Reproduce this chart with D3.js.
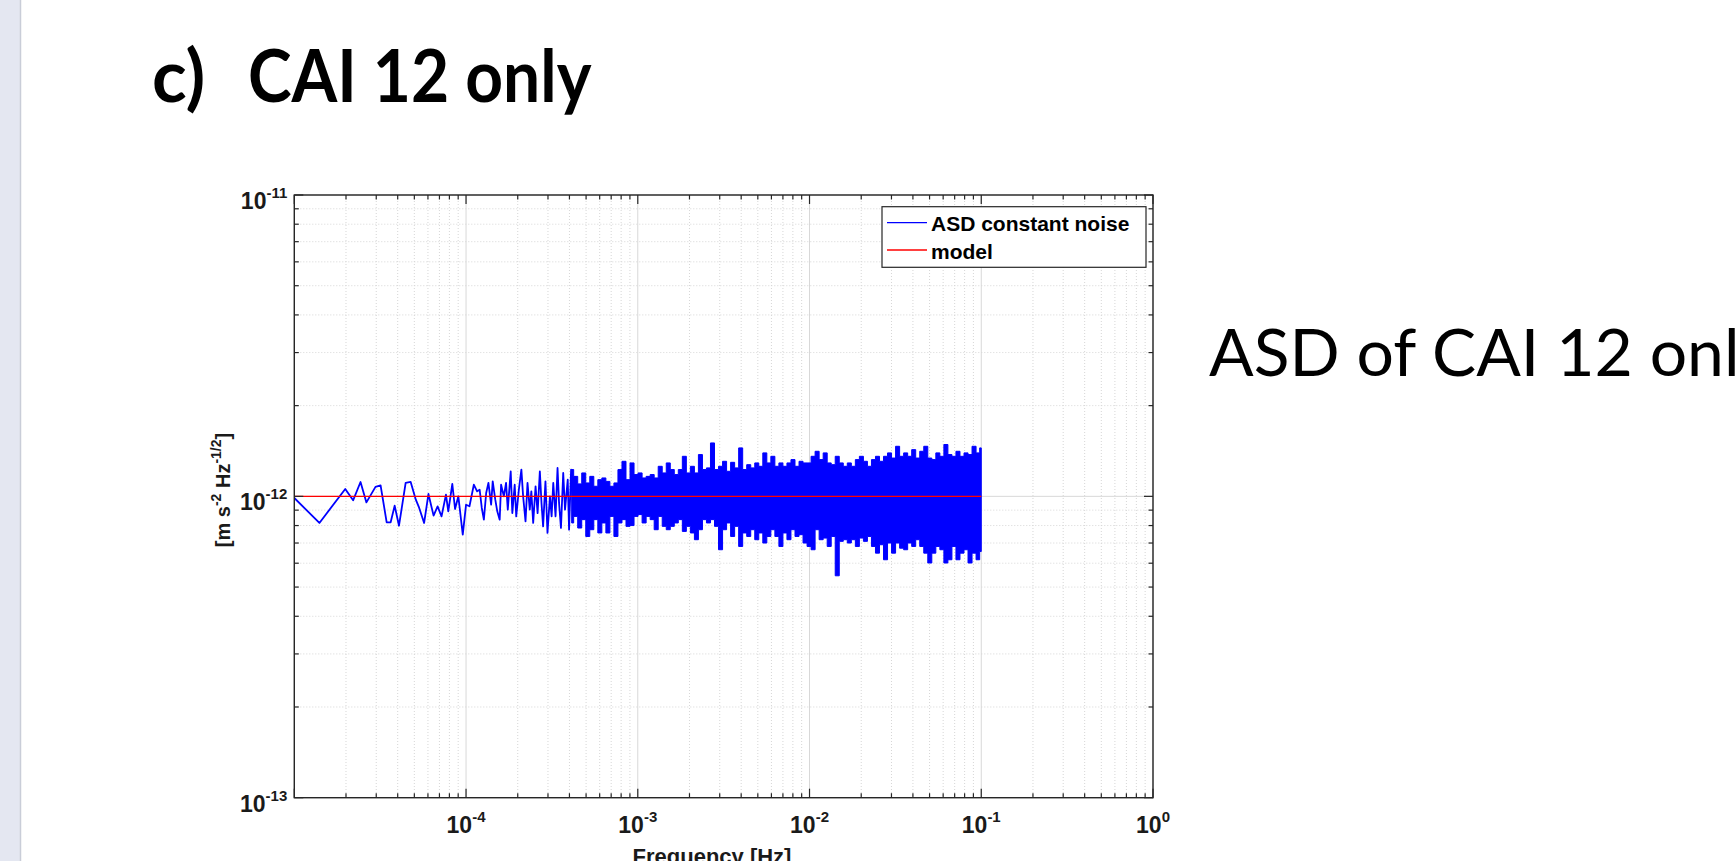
<!DOCTYPE html>
<html>
<head>
<meta charset="utf-8">
<script src="https://cdn.jsdelivr.net/npm/d3@7"></script>
<style>
  html, body { margin: 0; padding: 0; background: #fff; overflow: hidden; }
  #slide { position: relative; width: 1736px; height: 861px; overflow: hidden; }
</style>
</head>
<body>
<div id="slide"></div>
<script>
// values in units of 1e-12 m s^-2 Hz^-1/2
const unit = 1e-12;

// low frequency part, single points
const lineFreq = [1.00e-5, 1.40e-5, 1.98e-5, 2.20e-5, 2.43e-5, 2.63e-5, 2.97e-5, 3.18e-5, 3.45e-5, 3.64e-5,
  3.84e-5, 4.07e-5, 4.45e-5, 4.76e-5, 5.10e-5, 5.33e-5, 5.70e-5, 6.04e-5, 6.47e-5, 6.83e-5,
  7.20e-5, 7.64e-5, 7.88e-5, 8.32e-5, 8.63e-5, 9.02e-5, 9.57e-5, 1.00e-4, 1.047e-4, 1.11e-4,
  1.16e-4, 1.20e-4, 1.235e-4, 1.27e-4, 1.31e-4, 1.35e-4, 1.40e-4, 1.43e-4, 1.48e-4, 1.52e-4,
  1.57e-4, 1.60e-4, 1.66e-4, 1.71e-4, 1.75e-4, 1.82e-4, 1.86e-4, 1.92e-4, 1.96e-4, 2.03e-4,
  2.10e-4, 2.15e-4, 2.22e-4, 2.28e-4, 2.35e-4, 2.40e-4, 2.46e-4, 2.54e-4, 2.61e-4, 2.69e-4,
  2.75e-4, 2.81e-4, 2.90e-4, 2.98e-4, 3.08e-4, 3.15e-4, 3.22e-4, 3.32e-4, 3.41e-4, 3.48e-4,
  3.57e-4, 3.68e-4, 3.77e-4, 3.91e-4, 3.98e-4, 4.09e-4, 4.22e-4, 4.31e-4];
const lineAsd = [0.988, 0.816, 1.058, 0.970, 1.116, 0.955, 1.075, 1.088, 0.820, 0.820,
  0.931, 0.799, 1.108, 1.116, 0.975, 0.917, 0.816, 1.018, 0.863, 0.926,
  0.858, 1.013, 0.892, 1.099, 0.908, 1.000, 0.746, 0.938, 0.927, 1.093,
  1.039, 1.052, 0.915, 0.837, 1.026, 1.108, 0.938, 1.122, 0.975, 0.892,
  0.837, 1.093, 1.000, 1.108, 0.903, 1.211, 0.880, 1.093, 0.858, 1.052,
  1.227, 1.000, 0.826, 1.108, 0.903, 1.039, 0.816, 1.080, 0.880, 1.211,
  0.951, 0.795, 1.122, 0.756, 1.000, 0.858, 1.108, 0.858, 1.242, 0.951,
  0.785, 1.196, 0.903, 1.136, 0.775, 1.227, 0.880, 1.166];

// dense part: max / min of the trace per frequency bin
const bandFreq = [4.122e-4, 4.350e-4, 4.591e-4, 4.846e-4, 5.114e-4, 5.398e-4, 5.697e-4, 6.013e-4, 6.346e-4, 6.698e-4,
  7.069e-4, 7.461e-4, 7.875e-4, 8.311e-4, 8.772e-4, 9.258e-4, 9.771e-4, 1.031e-3, 1.089e-3, 1.149e-3,
  1.213e-3, 1.280e-3, 1.351e-3, 1.426e-3, 1.505e-3, 1.588e-3, 1.676e-3, 1.769e-3, 1.867e-3, 1.970e-3,
  2.080e-3, 2.195e-3, 2.316e-3, 2.445e-3, 2.580e-3, 2.723e-3, 2.874e-3, 3.034e-3, 3.202e-3, 3.379e-3,
  3.567e-3, 3.764e-3, 3.973e-3, 4.193e-3, 4.426e-3, 4.671e-3, 4.930e-3, 5.203e-3, 5.491e-3, 5.796e-3,
  6.117e-3, 6.456e-3, 6.814e-3, 7.192e-3, 7.590e-3, 8.011e-3, 8.455e-3, 8.924e-3, 9.419e-3, 9.941e-3,
  1.049e-2, 1.107e-2, 1.169e-2, 1.234e-2, 1.302e-2, 1.374e-2, 1.450e-2, 1.531e-2, 1.615e-2, 1.705e-2,
  1.800e-2, 1.899e-2, 2.005e-2, 2.116e-2, 2.233e-2, 2.357e-2, 2.487e-2, 2.625e-2, 2.771e-2, 2.924e-2,
  3.086e-2, 3.258e-2, 3.438e-2, 3.629e-2, 3.830e-2, 4.042e-2, 4.266e-2, 4.503e-2, 4.752e-2, 5.016e-2,
  5.294e-2, 5.587e-2, 5.897e-2, 6.224e-2, 6.569e-2, 6.933e-2, 7.317e-2, 7.723e-2, 8.151e-2, 8.602e-2,
  9.079e-2, 9.582e-2, 1.000e-1];
const bandHigh = [1.227, 1.165, 1.100, 1.196, 1.108, 1.165, 1.080, 1.136, 1.151, 1.121,
  1.080, 1.108, 1.227, 1.307, 1.136, 1.291, 1.181, 1.196, 1.151, 1.165,
  1.181, 1.151, 1.258, 1.196, 1.291, 1.227, 1.181, 1.227, 1.358, 1.196,
  1.258, 1.196, 1.376, 1.227, 1.243, 1.504, 1.227, 1.258, 1.307, 1.211,
  1.297, 1.243, 1.448, 1.227, 1.274, 1.243, 1.291, 1.258, 1.394, 1.291,
  1.358, 1.258, 1.291, 1.258, 1.291, 1.324, 1.258, 1.307, 1.291, 1.291,
  1.358, 1.411, 1.324, 1.394, 1.291, 1.274, 1.358, 1.291, 1.258, 1.291,
  1.258, 1.324, 1.358, 1.307, 1.258, 1.324, 1.358, 1.307, 1.358, 1.394,
  1.340, 1.466, 1.358, 1.394, 1.358, 1.429, 1.340, 1.411, 1.466, 1.340,
  1.324, 1.394, 1.358, 1.486, 1.376, 1.358, 1.411, 1.358, 1.394, 1.376,
  1.466, 1.394, 1.448];
const bandLow = [0.816, 0.858, 0.785, 0.837, 0.736, 0.775, 0.837, 0.756, 0.816, 0.756,
  0.858, 0.736, 0.816, 0.837, 0.795, 0.800, 0.858, 0.870, 0.816, 0.858,
  0.837, 0.775, 0.858, 0.795, 0.775, 0.795, 0.816, 0.837, 0.765, 0.795,
  0.756, 0.718, 0.775, 0.837, 0.816, 0.837, 0.795, 0.665, 0.775, 0.816,
  0.736, 0.795, 0.682, 0.756, 0.736, 0.775, 0.718, 0.756, 0.700, 0.736,
  0.775, 0.736, 0.682, 0.756, 0.718, 0.775, 0.736, 0.746, 0.700, 0.682,
  0.665, 0.775, 0.718, 0.727, 0.682, 0.736, 0.545, 0.709, 0.718, 0.700,
  0.718, 0.682, 0.727, 0.709, 0.736, 0.682, 0.648, 0.691, 0.616, 0.700,
  0.648, 0.700, 0.673, 0.665, 0.700, 0.682, 0.718, 0.682, 0.648, 0.601,
  0.648, 0.682, 0.665, 0.601, 0.616, 0.682, 0.616, 0.648, 0.665, 0.601,
  0.648, 0.616, 0.656];

const modelFreq = [1e-5, 1e-1];
const modelAsd = [1, 1];

const xTickExp = [-4, -3, -2, -1, 0];
const yTickExp = [-13, -12, -11];
const legendLabels = ["ASD constant noise", "model"];
const legendColors = ["#0000ff", "#ff0000"];

const W = 1736, H = 861;
const plot = { left: 294.3, right: 1153, top: 195, bottom: 797.7 };
const axisFont = "'Liberation Sans', Arial, Helvetica, sans-serif";
const ink = "#262626";

const svg = d3.select("#slide").append("svg")
    .attr("width", W)
    .attr("height", H)
    .style("display", "block");

// slide decoration
svg.append("rect").attr("x", 0).attr("y", 0).attr("width", 20).attr("height", H).attr("fill", "#e4e7f1");
svg.append("line").attr("x1", 20.5).attr("x2", 20.5).attr("y1", 0).attr("y2", H)
    .attr("stroke", "#c9cdd8").attr("stroke-width", 1.5);

svg.append("text")
    .attr("x", 152)
    .attr("y", 102)
    .style("font-family", "Lato, 'Open Sans', sans-serif")
    .style("font-weight", "bold")
    .style("font-size", "72px")
    .attr("fill", "#000")
    .text("c)");
svg.append("text")
    .attr("transform", "translate(248,102) scale(0.915,1)")
    .style("font-family", "Lato, 'Open Sans', sans-serif")
    .style("font-weight", "bold")
    .style("font-size", "72px")
    .attr("fill", "#000")
    .text("CAI 12 only");

svg.append("text")
    .attr("x", 1209)
    .attr("y", 376)
    .style("font-family", "Lato, 'Open Sans', sans-serif")
    .style("font-size", "66px")
    .attr("fill", "#000")
    .text("ASD of CAI 12 only");

// scales
const x = d3.scaleLog().domain([1e-5, 1]).range([plot.left, plot.right]);
const y = d3.scaleLog().domain([1e-13, 1e-11]).range([plot.bottom, plot.top]);

const isDecade = v => Math.abs(Math.log10(v) - Math.round(Math.log10(v))) < 1e-6;
const xTicks = x.ticks();
const yTicks = y.ticks();

// grid
const grid = svg.append("g");
grid.selectAll(".gx").data(xTicks).enter().append("line")
    .attr("x1", d => x(d)).attr("x2", d => x(d))
    .attr("y1", plot.top).attr("y2", plot.bottom)
    .attr("stroke", d => isDecade(d) ? "#d8d8d8" : "#d6d6d6")
    .attr("stroke-width", 1)
    .attr("stroke-dasharray", d => isDecade(d) ? null : "1,2");
grid.selectAll(".gy").data(yTicks).enter().append("line")
    .attr("x1", plot.left).attr("x2", plot.right)
    .attr("y1", d => y(d)).attr("y2", d => y(d))
    .attr("stroke", d => isDecade(d) ? "#d8d8d8" : "#d6d6d6")
    .attr("stroke-width", 1)
    .attr("stroke-dasharray", d => isDecade(d) ? null : "1,2");

svg.append("clipPath").attr("id", "clip")
    .append("rect")
    .attr("x", plot.left).attr("y", plot.top)
    .attr("width", plot.right - plot.left).attr("height", plot.bottom - plot.top);

const data = svg.append("g").attr("clip-path", "url(#clip)");

// dense band
const band = bandFreq.map((f, i) => ({ f: f, hi: bandHigh[i] * unit, lo: bandLow[i] * unit }));
data.append("path")
    .datum(band)
    .attr("fill", "#0000ff")
    .attr("stroke", "#0000ff")
    .attr("stroke-width", 1)
    .attr("d", d3.area().curve(d3.curveStep).x(d => x(d.f)).y0(d => y(d.lo)).y1(d => y(d.hi)));

// single trace
const trace = lineFreq.map((f, i) => ({ f: f, v: lineAsd[i] * unit }));
data.append("path")
    .datum(trace)
    .attr("fill", "none")
    .attr("stroke", "#0000ff")
    .attr("stroke-width", 1.8)
    .attr("stroke-linejoin", "round")
    .attr("d", d3.line().x(d => x(d.f)).y(d => y(d.v)));

// model
const model = modelFreq.map((f, i) => ({ f: f, v: modelAsd[i] * unit }));
data.append("path")
    .datum(model)
    .attr("fill", "none")
    .attr("stroke", "#ff0000")
    .attr("stroke-width", 1.3)
    .attr("d", d3.line().x(d => x(d.f)).y(d => y(d.v)));

// axes box and ticks on all four sides
const axes = svg.append("g").attr("stroke", ink);
axes.append("rect")
    .attr("x", plot.left).attr("y", plot.top)
    .attr("width", plot.right - plot.left).attr("height", plot.bottom - plot.top)
    .attr("fill", "none").attr("stroke-width", 1.4);

const tickLen = d => isDecade(d) ? 9 : 4.5;
[plot.bottom, plot.top].forEach((yy, side) => {
    axes.selectAll(null).data(xTicks).enter().append("line")
        .attr("x1", d => x(d)).attr("x2", d => x(d))
        .attr("y1", yy).attr("y2", d => side === 0 ? yy - tickLen(d) : yy + tickLen(d))
        .attr("stroke-width", 1.2);
});
[plot.left, plot.right].forEach((xx, side) => {
    axes.selectAll(null).data(yTicks).enter().append("line")
        .attr("y1", d => y(d)).attr("y2", d => y(d))
        .attr("x1", xx).attr("x2", d => side === 0 ? xx + tickLen(d) : xx - tickLen(d))
        .attr("stroke-width", 1.2);
});

// tick labels
const xLab = svg.selectAll(".xl").data(xTickExp).enter().append("text")
    .attr("x", d => x(Math.pow(10, d)))
    .attr("y", plot.bottom + 35.5)
    .attr("text-anchor", "middle")
    .style("font-family", axisFont)
    .style("font-weight", "bold")
    .style("font-size", "23px")
    .attr("fill", "#1a1a1a");
xLab.append("tspan").text("10");
xLab.append("tspan").attr("dy", -11).style("font-size", "15px").text(d => d);

const yLab = svg.selectAll(".yl").data(yTickExp).enter().append("text")
    .attr("x", plot.left - 7)
    .attr("y", d => y(Math.pow(10, d)) + 14)
    .attr("text-anchor", "end")
    .style("font-family", axisFont)
    .style("font-weight", "bold")
    .style("font-size", "23px")
    .attr("fill", "#1a1a1a");
yLab.append("tspan").text("10");
yLab.append("tspan").attr("dy", -11).style("font-size", "15px").text(d => d);

// axis titles
svg.append("text")
    .attr("x", 712)
    .attr("y", 864)
    .attr("text-anchor", "middle")
    .style("font-family", axisFont)
    .style("font-weight", "bold")
    .style("font-size", "22px")
    .attr("fill", "#1a1a1a")
    .text("Frequency  [Hz]");

const yTitle = svg.append("text")
    .attr("transform", "translate(230,490) rotate(-90)")
    .attr("text-anchor", "middle")
    .style("font-family", axisFont)
    .style("font-weight", "bold")
    .style("font-size", "20px")
    .attr("fill", "#1a1a1a");
yTitle.append("tspan").text("[m s");
yTitle.append("tspan").attr("dy", -9).style("font-size", "14px").text("-2");
yTitle.append("tspan").attr("dy", 9).text(" Hz");
yTitle.append("tspan").attr("dy", -9).style("font-size", "14px").text("-1/2");
yTitle.append("tspan").attr("dy", 9).text("]");

// legend
const legend = svg.append("g");
legend.append("rect")
    .attr("x", 882).attr("y", 206.7)
    .attr("width", 264).attr("height", 60.6)
    .attr("fill", "#fff").attr("stroke", ink).attr("stroke-width", 1.2);
legendLabels.forEach((label, i) => {
    const ly = 222.7 + i * 27.3;
    legend.append("line")
        .attr("x1", 887).attr("x2", 927)
        .attr("y1", ly).attr("y2", ly)
        .attr("stroke", legendColors[i]).attr("stroke-width", 1.3);
    legend.append("text")
        .attr("x", 931)
        .attr("y", ly + 8.5)
        .style("font-family", axisFont)
        .style("font-weight", "bold")
        .style("font-size", "21px")
        .attr("fill", "#000")
        .text(label);
});
</script>
</body>
</html>
